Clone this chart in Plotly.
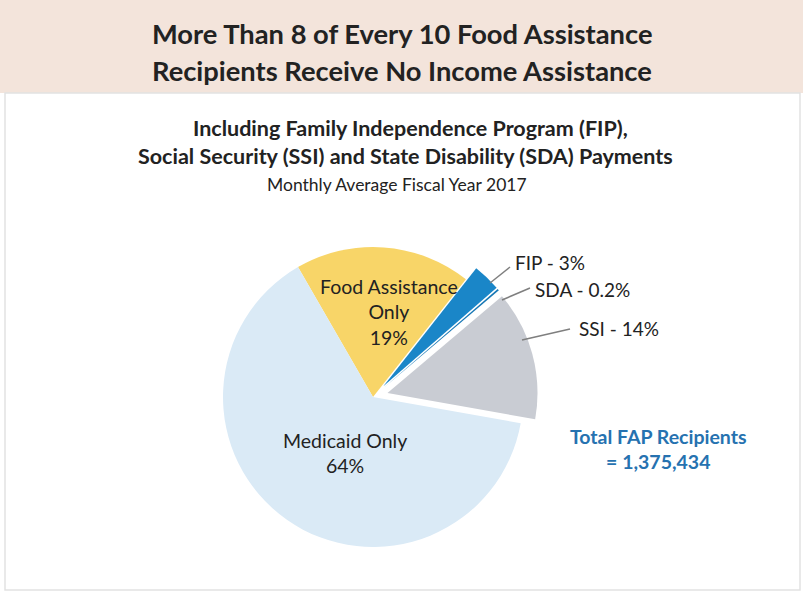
import plotly.graph_objects as go

# Food Assistance Program recipients by other assistance received, FY2017 monthly average
categories = ["Food Assistance Only", "FIP", "SDA", "SSI", "Medicaid Only"]
shares = [19, 3, 0.2, 14, 64]
colors = ["#f8d568", "#1a86c8", "#1677b5", "#c9ccd3", "#daeaf6"]
pulls = [0, 0.1, 0.1, 0.1, 0]
total_recipients = 1375434

W, H = 803, 593


def px(x):
    return x / W


def py(y):
    return 1 - y / H


fig = go.Figure(
    go.Pie(
        labels=categories,
        values=shares,
        sort=False,
        direction="clockwise",
        rotation=-30,
        pull=pulls,
        marker=dict(colors=colors, line=dict(width=0)),
        textinfo="none",
        hoverinfo="label+value",
        showlegend=False,
        domain=dict(x=[px(208), px(538)], y=[py(562), py(232)]),
    )
)

dark = "#222222"
font = "Lato"


def pct(v):
    return f"{v:g}%"


ann = []
# headline and subheadings
ann.append(dict(x=px(402), y=py(33), text="<b>More Than 8 of Every 10 Food Assistance</b>",
                font=dict(size=27.3, color=dark, family=font)))
ann.append(dict(x=px(402), y=py(70), text="<b>Recipients Receive No Income Assistance</b>",
                font=dict(size=27.3, color=dark, family=font)))
ann.append(dict(x=px(410), y=py(128), text="<b>Including Family Independence Program (FIP),</b>",
                font=dict(size=21.5, color=dark, family=font)))
ann.append(dict(x=px(405), y=py(156), text="<b>Social Security (SSI) and State Disability (SDA) Payments</b>",
                font=dict(size=21.5, color=dark, family=font)))
ann.append(dict(x=px(397), y=py(184), text="Monthly Average Fiscal Year 2017",
                font=dict(size=17.5, color=dark, family=font)))

# slice labels
ann.append(dict(x=px(389), y=py(312),
                text=f"{categories[0]}<br>Only<br>{pct(shares[0])}".replace(" Only", ""),
                font=dict(size=19.5, color=dark, family=font)))
ann.append(dict(x=px(345), y=py(453),
                text=f"{categories[4]}<br>{pct(shares[4])}",
                font=dict(size=19.5, color=dark, family=font)))
ann.append(dict(x=px(513), y=py(262), text=f"{categories[1]} - {pct(shares[1])}", xanchor="left",
                font=dict(size=19, color=dark, family=font)))
ann.append(dict(x=px(533), y=py(289), text=f"{categories[2]} - {pct(shares[2])}", xanchor="left",
                font=dict(size=19, color=dark, family=font)))
ann.append(dict(x=px(577), y=py(328), text=f"{categories[3]} - {pct(shares[3])}", xanchor="left",
                font=dict(size=19, color=dark, family=font)))

# total
ann.append(dict(x=px(658), y=py(449),
                text=f"<b>Total FAP Recipients<br>= {total_recipients:,}</b>",
                font=dict(size=19.5, color="#2672b0", family=font)))

for a in ann:
    a.setdefault("xanchor", "center")
    a.update(xref="paper", yref="paper", yanchor="middle", showarrow=False)

shapes = [
    # headline band
    dict(type="rect", xref="paper", yref="paper", x0=0, x1=1, y0=py(93), y1=1,
         fillcolor="#f3e4db", line=dict(width=0), layer="below"),
    # panel frame
    dict(type="rect", xref="paper", yref="paper", x0=px(5), x1=px(800), y0=py(590), y1=py(93),
         fillcolor="rgba(0,0,0,0)", line=dict(color="#e2e2e2", width=1.5), layer="below"),
]
# leader lines
for (x0, y0, x1, y1) in [(490, 283, 510, 267), (502, 300, 530, 288), (522, 340, 570, 329)]:
    shapes.append(dict(type="line", xref="paper", yref="paper", x0=px(x0), y0=py(y0),
                       x1=px(x1), y1=py(y1), line=dict(color="#7f7f7f", width=1.5)))

fig.update_layout(
    width=W, height=H,
    margin=dict(l=0, r=0, t=0, b=0),
    paper_bgcolor="white",
    plot_bgcolor="white",
    annotations=ann,
    shapes=shapes,
    font=dict(family=font),
)

fig.write_html("out.html")
